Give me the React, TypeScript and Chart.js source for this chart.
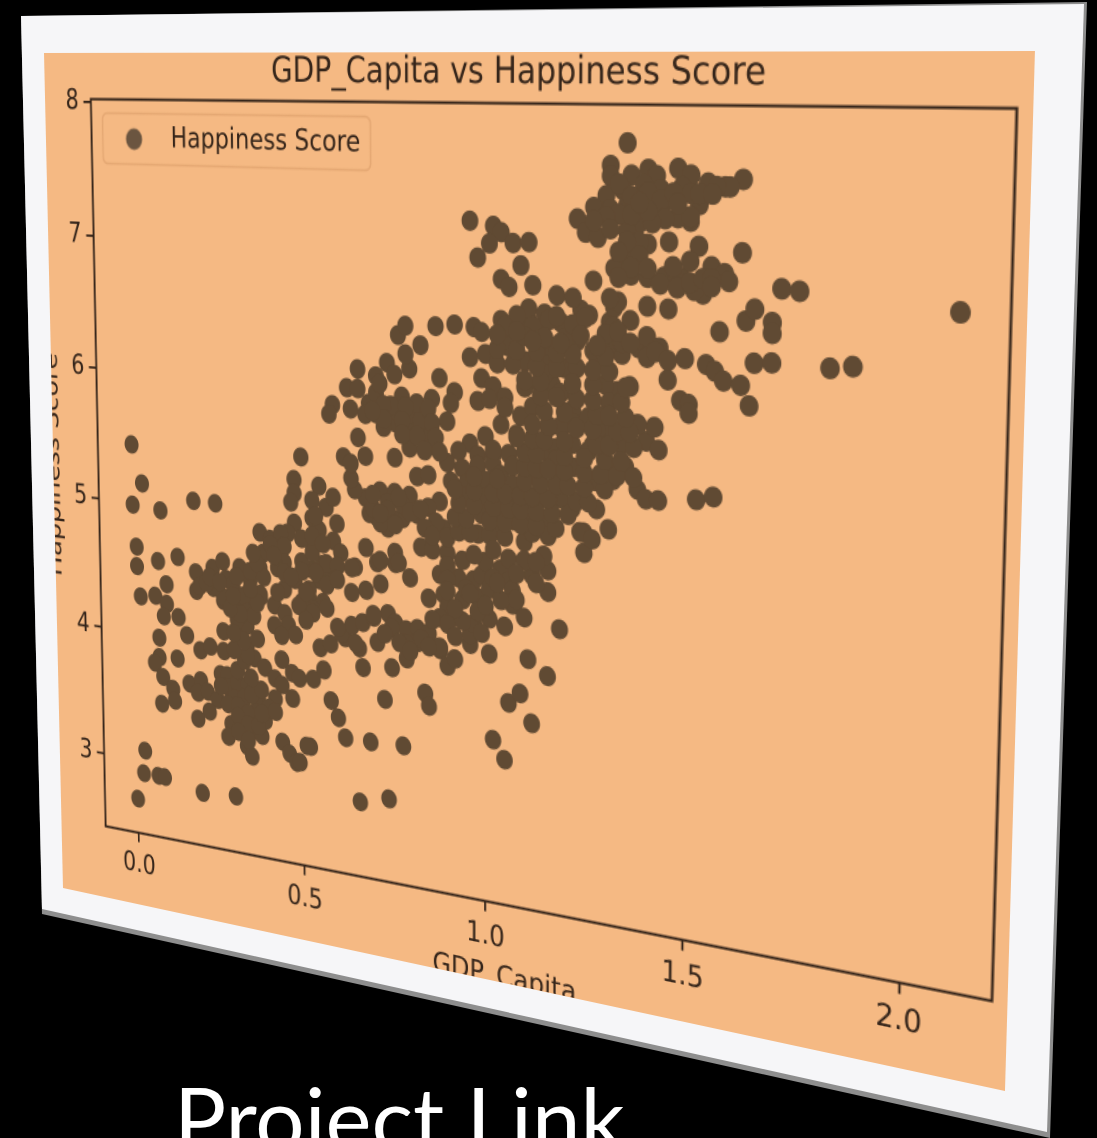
import React, { useEffect, useRef } from "react";
import { Chart, registerables } from "chart.js";

Chart.register(...registerables);

const chartTitle = "GDP_Capita vs Happiness Score";
const xLabel = "GDP_Capita";
const yLabel = "Happiness Score";
const caption = "Project Link";
const xTicks = [0, 0.5, 1, 1.5, 2];
const yTicks = [3, 4, 5, 6, 7, 8];

const gdpCapita = [
  0, .03, 0, .085, .185, .25, .01, .01, .075, .135, .1, .02, .065, .1, .09, .135, .075, .16, .075, .06,
  .13, .085, .115, .12, .08, .165, .2, .19, .22, .25, .225, .19, .2, .23, .27, .27, .27, .19, .31, .34,
  .34, .37, .32, .34, .38, .3, .36, .39, .42, .44, .44, .47, .49, .53, .56, .47, .42, .26, .28, .28,
  .31, .34, .3, .33, .37, .4, .32, .36, .39, .29, .28, .33, .36, .38, .335, .35, .44, .46, .48, .52,
  .025, .02, .065, .085, 0, .2, .3,
  .66, .74, .51, .49, .62, .69, .78, .58, .6, .73, .84, .85, 1.02, 1.05, 1.06, 1.09, 1.12, 1.16, 1.11, 1.19,
  1.01, .9, .92, .88, .75, .79, .67, .56, .71, .66, .55, .58, .62, .65, .61, .64, .67, .7, .74, .76,
  .79, .82, .82, .85, .79, .88, .88, .85, .89, .9, .92, .88, .94, .93, .97, .99, .98, 1.01, 1.04, 1,
  1.06, 1.07, 1.07, 1.1, 1.12, 1.16, 1.16, .96, .96, .97, 1.01, 1.05, .99,
  .64, .68, .72, .8, .71, .76, .55, .52, .56, .53, .58, .65, .5, .53,
  .5, .48, .48, .47, .55, .53, .53, .55, .57, .48, .46, .38, .41, .44, .39, .45, .45, .43, .38, .41,
  .19, .2, .24, .27, .28, .32, .35, .39, .3, .27, .33, .38, .45, .48, .56, .52, .56,
  .59, .54, .6, .59, .61, .57, .54, .64, .68, .72, .76, .77, .83, .9,
  .69, .68, .72, .71, .69, .74, .76, .8, .78, .82, .82, .85, .88, .93, .89, .9, .98, .65, .64, .62,
  .64, .68, .66, .76, .8, .85, .84, .8, .76, .73, .71, .76, .8, .83, .78, .82, .75, .64, .59, .58,
  .63, .69, .71, .66, .71, .74, .76, .8, .79, .77, .79, .83, .87, .92, .97, .99, .96, 1, .88, .86,
  .92, .91, .9, .99, 1.02, .98, 1.01, 1.05, 1.1, 1.14, 1.17, 1.2, 1.23, 1.27, 1.04, 1.07, 1.11, 1.15, 1.06, 1.1,
  1.14, 1.16, 1.19,
  1.09, 1.12, 1.08, 1.04, 1, .96, .93, .98, 1.02, 1.06, .9, .94, .98, 1.02, 1.11, .91, .95, 1, 1.04, 1.07,
  .95, 1, 1.04, 1.07, 1.11, 1.15, 1.19, 1.22, .99, 1.03, 1.07, 1.12, 1.16, 1.03, 1.1, 1.16, 1.12, 1.14, 1.18, 1.16,
  1.2, 1.16, 1.2, 1.25, 1.27, 1.22, 1.26, 1.27, 1.25, 1.25, 1.28,
  1.57, 1.63, 1.65, 1.69, 1.69, 1.45, 1.4, 1.49, 1.54, 1.56, 1.58, 1.62, 1.64, 1.65, 1.69, 1.82, 1.87, 2.096, 1.71, 1.75,
  1.45, 1.48, 1.5, 1.5, 1.28, 1.32, 1.35, 1.32, 1.38, 1.4, 1.43, 1.52, 1.56, 1.28, 1.24, 1.31, 1.27,
  1.4, 1.42, 1.38, 1.35, 1.31, 1.34, 1.26, 1.3, 1.28, 1.22, 1.19, 1.22, 1.18, 1.22, 1.18, 1.18, 1.19,
  1.36, 1.33, 1.3, 1.34, 1.38, 1.43, 1.4, 1.4, 1.36, 1.31, 1.26, 1.31, 1.23, 1.28, 1.23, 1.18, 1.16, 1.17, 1.24, 1.32,
  1.15, 1.19, 1.31,
  1.35, 1.31, 1.31, 1.36, 1.4, 1.42, 1.47, 1.5, 1.54, 1.58, 1.62, 1.59, 1.56, 1.48, 1.43, 1.39, 1.34, 1.39, 1.44, 1.35,
  1.3, 1.27, 1.23, 1.25, 1.28, 1.31, 1.52, 1.5, 1.47, 1.43, 1.38, 1.35, 1.4, 1.45, 1.52, 1.62, 1.35, 1.34, 1.37, 1.32,
  1.27, 1.36, 1.4, 1.44, 1.48, 1.46, 1.5, 1.55, 1.58, 1.59, 1.53, 1.51, 1.33, 1.31,
  .96, 1.02, 1.04, 1.01, .98, 1.07, 1.11, 1.09, 1.04, 1.06, 1.12, 1.11, 1.18, 1.15, 1.22, 1.08, 1.05, 1.32, 1.16, 1.12,
];

const happinessScore = [
  5.44, 5.15, 4.98, 4.96, 5.06, 5.06, 4.66, 4.51, 4.57, 4.62, 4.4, 4.28, 4.3, 4.25, 4.15, 4.16, 3.98, 4.03, 3.83, 3.78,
  3.84, 3.68, 3.6, 3.51, 3.47, 3.66, 3.7, 3.6, 3.62, 3.57, 3.47, 3.4, 3.93, 3.97, 4.1, 3.95, 4.33, 4.38, 4.08, 4.17,
  4.02, 4.08, 4.3, 4.37, 4.4, 4.4, 3.93, 3.87, 3.8, 3.76, 3.95, 3.86, 3.83, 3.84, 3.92, 3.67, 3.65, 3.77, 3.77, 3.68,
  3.72, 3.72, 3.6, 3.62, 3.64, 3.57, 3.5, 3.52, 3.47, 3.4, 3.3, 3.41, 3.38, 3.35, 3.25, 3.18, 3.33, 3.25, 3.19, 3.33,
  3.08, 2.9, 2.9, 2.9, 2.69, 2.83, 2.85,
  2.98, 3.04, 3.33, 3.2, 3.44, 3.44, 3.45, 3.7, 3.58, 3.77, 3.86, 3.77, 3.6, 3.47, 3.88, 3.96, 3.76, 4.11, 4.21, 4.45,
  4.21, 4.08, 4.14, 4.19, 4.01, 4.09, 3.98, 3.92, 4.18, 4.12, 4.08, 4.12, 4.18, 4.15, 4.21, 4.28, 4.31, 4.36, 4.4, 4.34,
  4.3, 4.32, 4.22, 4.3, 4.2, 4.21, 4.73, 4.55, 4.59, 4.5, 4.44, 4.42, 4.57, 4.72, 4.72, 4.76, 4.6, 4.67, 4.82, 4.86,
  4.74, 4.68, 4.58, 4.5, 4.8, 4.85, 4.7, 4.26, 4.33, 4.41, 4.46, 4.42, 4.35,
  4.52, 4.55, 4.61, 4.68, 4.76, 4.77, 4.58, 4.45, 4.42, 4.36, 4.65, 4.71, 4.4, 4.65,
  5.47, 5.3, 5.2, 5.13, 5.27, 5.16, 5.03, 4.95, 5.12, 4.98, 4.9, 4.88, 4.84, 4.89, 4.73, 4.8, 4.68, 4.63, 4.62, 4.8,
  4.52, 4.42, 4.57, 4.63, 4.5, 4.6, 4.51, 4.55, 4.46, 4.36, 4.39, 4.42, 4.48, 4.56, 4.7, 4.5, 4.62,
  5.2, 5.05, 5.01, 4.88, 4.8, 4.71, 4.63, 4.7, 4.86, 4.78, 4.85, 4.78, 4.91, 4.89,
  5.2, 5.22, 5.28, 5.09, 5.11, 5.02, 5.28, 5.27, 5.1, 5.14, 5.41, 5.43, 5.25, 5.14, 5.06, 5, 5.05, 5.27, 5.35, 5.5,
  5.46, 5.52, 5.65, 5.53, 5.61, 5.65, 5.74, 5.73, 5.78, 5.74, 5.83, 5.87, 5.85, 5.81, 5.97, 5.93, 5.9, 5.85, 5.87, 5.8,
  6, 5.9, 5.98, 6.14, 6.1, 6.2, 6.12, 6.17, 6.27, 6.4, 6.47, 6.34, 6.48, 6.5, 6.49, 6.46, 6.28, 6.31, 6.12, 5.97,
  6.03, 5.95, 5.82, 6.14, 6.09, 5.98, 6, 6.02, 6.1, 6.12, 6.13, 6.25, 6.48, 6.38, 6.55, 6.45, 6.56, 6.55, 6.37, 6.28,
  6.34, 6.33, 6.56,
  5.9, 5.97, 5.77, 5.83, 5.74, 5.68, 5.62, 5.6, 5.62, 5.63, 5.53, 5.5, 5.53, 5.55, 5.53, 5.4, 5.39, 5.43, 5.48, 5.42,
  5.3, 5.31, 5.31, 5.27, 5.28, 5.35, 5.41, 5.3, 5.19, 5.2, 5.17, 5.21, 5.19, 5.12, 5.03, 5.09, 5.1, 5.51, 5.53, 5.66,
  5.61, 5.84, 5.87, 5.9, 5.74, 5.97, 5.93, 5.5, 5.14, 5, 5.31,
  6.56, 6.64, 6.72, 6.64, 6.57, 6.69, 6.7, 6.37, 6.34, 6.3, 6.24, 6.22, 6.09, 6.37, 6.38, 6.37, 6.39, 6.77, 6.86, 6.85,
  6.22, 6.09, 6.07, 6.01, 5.5, 5.59, 5.62, 5.52, 5.47, 5.41, 5.41, 5.44, 5.47, 5.31, 5.14, 5.18, 5.1,
  5.8, 5.9, 5.91, 5.9, 5.85, 5.76, 5.7, 5.75, 5.85, 5.88, 5.85, 5.74, 5.7, 5.58, 5.62, 5.45, 5.36,
  6.16, 6.12, 6.16, 6.37, 6.42, 6.43, 6.36, 6.5, 6.6, 6.58, 6.62, 6.44, 6.44, 6.33, 6.26, 6.29, 6.4, 6.58, 6.65, 6.68,
  6.2, 6.08, 6.04,
  7.77, 7.62, 7.55, 7.56, 7.6, 7.56, 7.61, 7.57, 7.52, 7.5, 7.55, 7.5, 7.5, 7.49, 7.47, 7.5, 7.46, 7.4, 7.4, 7.36,
  7.42, 7.34, 7.26, 7.17, 7.14, 7.33, 7.38, 7.27, 7.29, 7.33, 7.25, 7.19, 7.11, 7.13, 7.11, 7.08, 7.08, 7.01, 7, 6.94,
  6.85, 6.9, 6.89, 6.9, 6.9, 6.97, 7.01, 6.98, 6.94, 6.89, 6.8, 6.82, 6.72, 6.74,
  7.22, 7.19, 7.15, 7.07, 6.97, 7.08, 7.09, 6.93, 6.83, 6.78, 6.8, 6.64, 6.74, 6.61, 6.73, 6.59, 6.51, 6.55, 6.57, 6.52,
];

const denseGdp = [
  .93, .96, 1.01, 1.05, .92, .95, 1.01, 1.05, 1.09, 1.13, 1.18, .93, .97, 1.02, 1.06, 1.09, 1.13, 1.17, 1.21,
  .92, .97, 1.02, 1.05, 1.09, 1.12, 1.16, 1.23, 1.26, .97, 1.03, 1.1, 1.14, 1.18, 1.21, 1.25, 1.3,
  1.07, 1.1, 1.13, 1.16, 1.2, 1.25, 1.29, 1.33, 1.37, 1.02, 1.1, 1.13, 1.2, 1.25, 1.3, 1.34,
  1.08, 1.12, 1.15, 1.2, 1.28, 1.31, 1.37, 1.43, 1.12, 1.16, 1.23, 1.27, 1.33, 1.36,
  1.05, 1.15, 1.2, 1.28, 1.31, 1.35, 1.14, 1.18, 1.23, 1.27, 1.34, 1.1, 1.14, 1.22, 1.27, 1.35,
  1.03, 1.07, 1.13, 1.18, 1.27, 1.31, 1.03, 1.08, 1.13, 1.18, 1.22, 1.3, 1.03, 1.1, 1.15, 1.2, 1.34,
  .73, .79, .85, .73, .78, .86, .78, .82, .87, .84, .88, .68, .66, .72, .7,
  .7, .74, .75, .78, .72, .85, .87, .84,
  .86, .9, .94, .97, 1.02, 1.06, .9, .95, 1.02, 1.1, 1.08, 1.13, 1.15, 1.13,
  .9, .94, .98, 1, 1.04, 1.03, 1.08, .96, .9, .92, .86, .92,
  .6, .7, .75, .73, .77, .83, .85, .8,
  .28, .31, .34, .31, .34, .37, .31, .34, .38, .42, .26, .35, .38, .35, .31, .33, .34, .3, .33, .31,
  .3, .34, .36, .37, .32, .29, .24, .22,
  .42, .45, .49, .53, .57, .51, .46, .42, .44, .48,
  .23, .26, .31, .35, .37, .36, .42, .45, .43, .3, .35, .5, .5, .47, .51, .53, .5, .53, .56, .57, .6, .6,
  1.33, 1.36, 1.33, 1.36, 1.4, 1.43, 1.46, 1.5, 1.52, 1.55, 1.5, 1.44, 1.41, 1.4, 1.47, 1.38, 1.3, 1.27, 1.31, 1.38,
  1.35, 1.33, 1.38, 1.36, 1.4, 1.33, 1.43, 1.47, 1.5, 1.53, 1.55, 1.55,
  1.18, 1.22, 1.25, 1.24, 1.3, 1.28, 1.33, 1.36, 1.42, 1.45, 1.15, 1.19, 1.12, 1.08,
  .7, .74, .77, .8, .76, .72, .83, .86,
];

const denseScore = [
  5.05, 5.05, 5.05, 5.05, 5.15, 5.15, 5.15, 5.15, 5.15, 5.15, 5.15, 5.25, 5.25, 5.25, 5.25, 5.25, 5.25, 5.25, 5.25,
  5.35, 5.35, 5.35, 5.35, 5.35, 5.35, 5.35, 5.35, 5.35, 5.45, 5.45, 5.45, 5.45, 5.45, 5.45, 5.45, 5.45,
  5.55, 5.55, 5.55, 5.55, 5.55, 5.55, 5.55, 5.55, 5.55, 5.65, 5.65, 5.65, 5.65, 5.65, 5.65, 5.65,
  5.75, 5.75, 5.75, 5.75, 5.75, 5.75, 5.75, 5.75, 5.85, 5.85, 5.85, 5.85, 5.85, 5.85,
  5.95, 5.95, 5.95, 5.95, 5.95, 5.95, 6.05, 6.05, 6.05, 6.05, 6.05, 6.15, 6.15, 6.15, 6.15, 6.15,
  6.25, 6.25, 6.25, 6.25, 6.25, 6.25, 6.35, 6.35, 6.35, 6.35, 6.35, 6.35, 6.45, 6.45, 6.45, 6.45, 6.45,
  5.9, 5.9, 5.9, 5.8, 5.8, 5.8, 5.7, 5.7, 5.7, 5.6, 5.6, 5.82, 6, 6.05, 5.85,
  5.15, 5.2, 5.1, 5.2, 5.05, 5.2, 5.1, 5.05,
  4.9, 4.8, 4.85, 4.9, 4.95, 4.9, 4.7, 4.65, 4.75, 4.9, 4.8, 4.75, 4.95, 4.9,
  4.38, 4.42, 4.5, 4.55, 4.6, 4.72, 4.62, 4.62, 4.62, 4.5, 4.4, 4.3,
  4.25, 4.38, 4.3, 4.25, 4.2, 4.25, 4.2, 4.15,
  3.55, 3.55, 3.5, 3.47, 3.42, 3.42, 3.35, 3.3, 3.52, 3.55, 3.68, 3.65, 3.7, 3.78, 3.82, 3.9, 3.95, 3.97, 4.05, 4.2,
  4.1, 4.27, 4.25, 4.35, 4.25, 4.28, 4.42, 4.45,
  4.35, 4.3, 4.37, 4.33, 4.38, 4.27, 4.22, 4.2, 4.13, 4.15,
  4.5, 4.47, 4.53, 4.58, 4.65, 4.72, 4.72, 4.6, 4.45, 4.38, 4.45, 4.7, 4.63, 4.58, 4.48, 4.78, 4.87, 4.9, 4.85, 4.55, 4.7, 4.6,
  7.5, 7.42, 7.3, 7.3, 7.45, 7.4, 7.45, 7.45, 7.45, 7.45, 7.3, 7.28, 7.25, 7.33, 7.38, 7.38, 7.28, 7.25, 7.2, 7.12,
  7.12, 7.05, 7.03, 6.95, 6.95, 6.88, 6.85, 6.83, 6.87, 6.9, 6.9, 6.85,
  6.6, 6.55, 6.6, 6.48, 6.5, 6.42, 6.52, 6.45, 6.4, 6.35, 6.45, 6.42, 6.42, 6.48,
  5.25, 5.15, 5.25, 5.15, 5.05, 5.12, 5.18, 5.0,
];

const PANEL_W = 861;
const PANEL_H = 698;
const EXTRA = 100;
const PLOT_BOTTOM = 636.6;
const LEGEND_W = 267;
const LEGEND_H = 40;
const PANEL_QUAD = [[44, 53], [1035, 51], [1005, 1091], [63, 888]];
const FRAME_QUAD = [[21, 16], [1087, 2], [1050, 1138], [42, 914]];
const FRAME_INNER = [[21, 16], [1084, 4], [1047, 1132], [42, 909]];

function quadMatrix(w: number, h: number, q: number[][]) {
  const [[x0, y0], [x1, y1], [x2, y2], [x3, y3]] = q;
  const sx = x0 - x1 + x2 - x3, sy = y0 - y1 + y2 - y3;
  const dx1 = x1 - x2, dx2 = x3 - x2, dy1 = y1 - y2, dy2 = y3 - y2;
  const det = dx1 * dy2 - dx2 * dy1;
  const g = (sx * dy2 - dx2 * sy) / det;
  const k = (dx1 * sy - sx * dy1) / det;
  const a = x1 - x0 + g * x1, b = x3 - x0 + k * x3;
  const d = y1 - y0 + g * y1, e = y3 - y0 + k * y3;
  return `matrix3d(${a / w},${d / w},0,${g / w},${b / h},${e / h},0,${k / h},0,0,1,0,${x0},${y0},0,1)`;
}

const INK = "#35251a";
const DOT = "#604a33";
const font = "'DejaVu Sans'";
const poly = (q: number[][]) => `polygon(${q.map(([x, y]) => `${x}px ${y}px`).join(",")})`;

export default function App() {
  const ref = useRef<HTMLCanvasElement>(null);
  useEffect(() => {
    const marker = document.createElement("canvas");
    marker.width = 51;
    marker.height = 20;
    const m = marker.getContext("2d")!;
    m.fillStyle = "#6b5540";
    m.beginPath();
    m.arc(24, 10, 8.5, 0, Math.PI * 2);
    m.fill();

    const boxPlugin = {
      id: "box",
      afterLayout(chart: any) {
        const lg = chart.legend;
        lg.left = chart.chartArea.left + 12;
        lg.top = chart.chartArea.top + 11;
      },
      beforeDraw(chart: any) {
        const { ctx, legend: lg } = chart;
        ctx.save();
        ctx.strokeStyle = "#e5a873";
        ctx.lineWidth = 1.6;
        ctx.beginPath();
        ctx.roundRect(lg.left, lg.top, LEGEND_W, LEGEND_H, 5);
        ctx.stroke();
        ctx.restore();
      },
      afterDatasetsDraw(chart: any) {
        const { ctx, chartArea: a } = chart;
        ctx.save();
        ctx.strokeStyle = INK;
        ctx.lineWidth = 2;
        ctx.strokeRect(a.left, a.top, a.right - a.left, a.bottom - a.top);
        ctx.restore();
      },
    };
    const allGdp = [...gdpCapita, ...denseGdp];
    const allScore = [...happinessScore, ...denseScore];
    const chart = new Chart(ref.current!, {
      type: "scatter",
      data: {
        datasets: [{
          label: yLabel,
          data: allGdp.map((x, i) => ({ x, y: allScore[i] })),
          backgroundColor: DOT,
          borderColor: DOT,
          borderWidth: 0,
          pointRadius: 7.5,
          pointHoverRadius: 7.5,
          clip: false,
        }],
      },
      plugins: [boxPlugin],
      options: {
        animation: false,
        responsive: false,
        devicePixelRatio: 2,
        layout: { padding: { left: 0, right: 11.4, top: 0, bottom: 0 } },
        plugins: {
          tooltip: { enabled: false },
          title: {
            display: true,
            text: chartTitle,
            color: INK,
            fullSize: false,
            font: { family: font, size: 27, weight: "normal", lineHeight: 1 },
            padding: { top: 1.6, bottom: 8 },
          },
          legend: {
            position: "chartArea",
            align: "start",
            labels: {
              usePointStyle: true,
              pointStyle: marker,
              pointStyleWidth: 51,
              boxHeight: 20,
              padding: 9,
              color: INK,
              font: { family: font, size: 22.4 },
            },
          },
        },
        scales: {
          x: {
            type: "linear",
            min: -0.105,
            max: 2.2,
            afterFit(s: any) { s.height = PANEL_H + EXTRA - PLOT_BOTTOM; },
            afterBuildTicks(s: any) { s.ticks = xTicks.map((value) => ({ value })); },
            title: { display: true, text: xLabel, color: INK, font: { family: font, size: 22.4 }, padding: { top: 0, bottom: 90 } },
            grid: { drawOnChartArea: false, drawTicks: true, tickLength: 8, color: INK, lineWidth: 1.8 },
            border: { display: false },
            ticks: { color: INK, font: { family: font, size: 22.4 }, padding: 6, maxRotation: 0, callback: (v: any) => Number(v).toFixed(1) },
          },
          y: {
            type: "linear",
            min: 2.42,
            max: 8.02,
            afterFit(s: any) { s.width = EXTRA + 49.6; },
            afterBuildTicks(s: any) { s.ticks = yTicks.map((value) => ({ value })); },
            title: { display: true, text: yLabel, color: INK, font: { family: font, size: 22.4 }, padding: { top: 87, bottom: 0 } },
            grid: { drawOnChartArea: false, drawTicks: true, tickLength: 8, color: INK, lineWidth: 1.8 },
            border: { display: false },
            ticks: { color: INK, font: { family: font, size: 22.4 }, padding: 5, callback: (v: any) => String(v) },
          },
        },
      },
    } as any);
    return () => chart.destroy();
  }, []);

  return (
    <div style={{ position: "fixed", left: 0, top: 0, width: 1097, height: 1138, background: "#000", overflow: "hidden" }}>
      <div style={{ position: "absolute", inset: 0, background: "#8e8e8e", clipPath: poly(FRAME_QUAD) }} />
      <div style={{ position: "absolute", inset: 0, background: "#f6f6f8", clipPath: poly(FRAME_INNER) }} />
      <div
        style={{
          position: "absolute", left: 0, top: 0, width: PANEL_W, height: PANEL_H,
          transformOrigin: "0 0", transform: quadMatrix(PANEL_W, PANEL_H, PANEL_QUAD),
          overflow: "hidden", background: "#f5b983",
        }}
      >
        <canvas
          ref={ref}
          width={PANEL_W + EXTRA}
          height={PANEL_H + EXTRA}
          style={{ position: "absolute", left: -EXTRA, top: 0, width: PANEL_W + EXTRA, height: PANEL_H + EXTRA }}
        />
      </div>
      <div
        style={{
          position: "absolute", left: 174, top: 1063, color: "#fff", fontFamily: "Lato",
          fontWeight: 400, fontSize: 87, lineHeight: "110px", whiteSpace: "nowrap",
        }}
      >
        {caption}
      </div>
    </div>
  );
}
